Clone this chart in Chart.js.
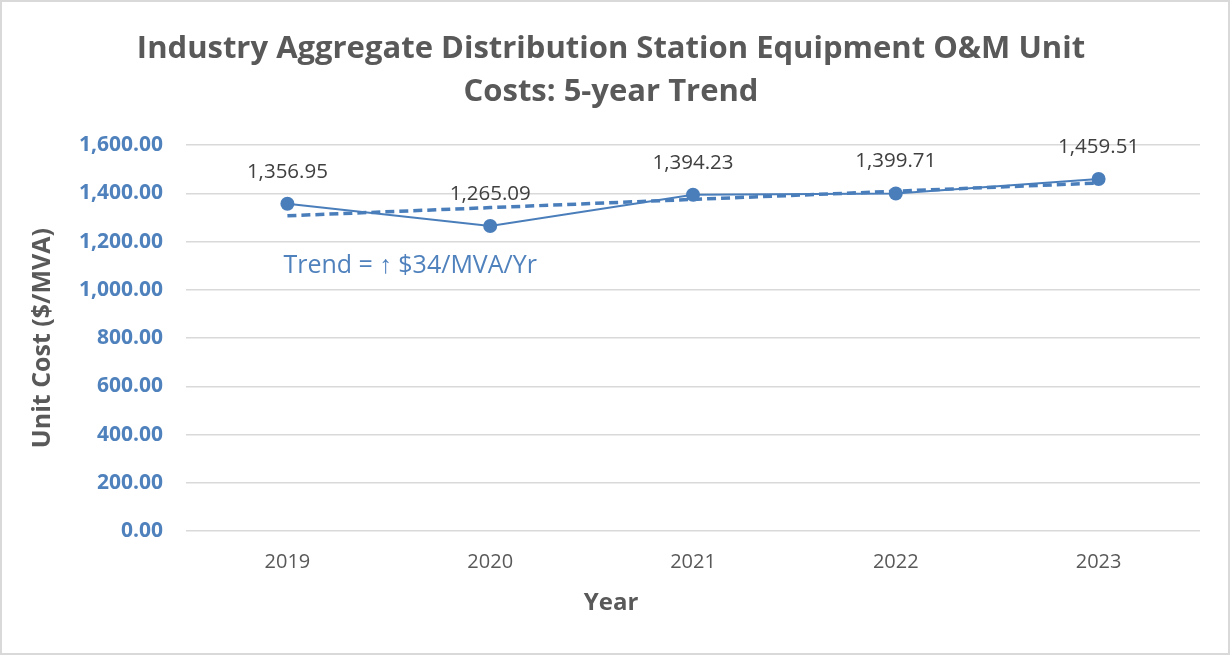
<!DOCTYPE html>
<html>
<head>
<meta charset="utf-8">
<script src="https://cdn.jsdelivr.net/npm/chart.js@4"></script>
<style>
  html, body { margin: 0; padding: 0; background: #fff; }
  canvas { display: block; }
</style>
</head>
<body>
<canvas id="js-chart" width="1230" height="655"></canvas>
<script>
var years = ["2019", "2020", "2021", "2022", "2023"],
    unitCosts = [1356.95, 1265.09, 1394.23, 1399.71, 1459.51],
    trendCosts = [1307.15, 1341.12, 1375.10, 1409.07, 1443.05],
    titleLines = ["Industry Aggregate Distribution Station Equipment O&M Unit", "Costs: 5-year Trend"],
    trendNote = "Trend = \u2191 $34/MVA/Yr";

var blue = "#4A7EBB",
    tickBlue = "#4F81BD",
    gray = "#595959",
    font = "'Open Sans', sans-serif";

Chart.defaults.font.family = font;

function fmt(v) {
    return v.toLocaleString("en-US", {minimumFractionDigits: 2, maximumFractionDigits: 2});
}

/* white page plus the thin frame round the whole chart */
var framePlugin = {
    id: "frame",
    beforeDraw: function(chart) {
        var ctx = chart.ctx;
        ctx.save();
        ctx.fillStyle = "#fff";
        ctx.fillRect(0, 0, chart.width, chart.height);
        ctx.strokeStyle = "#d9d9d9";
        ctx.lineWidth = 2;
        ctx.strokeRect(1, 1, chart.width - 2, chart.height - 2);
        ctx.restore();
    }
};

/* value labels above the points, the trend note and the x title */
var textPlugin = {
    id: "texts",
    afterDatasetsDraw: function(chart) {
        var ctx = chart.ctx,
            meta = chart.getDatasetMeta(0),
            x = chart.scales.x,
            y = chart.scales.y;
        ctx.save();
        ctx.textAlign = "center";
        ctx.textBaseline = "middle";
        ctx.fillStyle = "#404040";
        ctx.font = "20.5px " + font;
        meta.data.forEach(function(pt, i) {
            ctx.fillText(fmt(unitCosts[i]), pt.x, pt.y - 32);
        });

        ctx.textAlign = "left";
        ctx.fillStyle = tickBlue;
        ctx.font = "25px " + font;
        ctx.fillText(trendNote, x.getPixelForValue(0) - 4, y.getPixelForValue(1100));

        ctx.textAlign = "center";
        ctx.fillStyle = gray;
        ctx.font = "bold 24px " + font;
        ctx.fillText("Year", chart.width / 2 - 4, 603);
        ctx.restore();
    }
};

new Chart(document.getElementById("js-chart"), {
    type: "line",
    data: {
        labels: years,
        datasets: [{
            data: unitCosts,
            borderColor: blue,
            backgroundColor: blue,
            borderWidth: 2,
            pointRadius: 7,
            pointBackgroundColor: blue,
            pointBorderWidth: 0,
            tension: 0,
            order: 1
        }, {
            data: trendCosts,
            borderColor: blue,
            borderWidth: 3.5,
            borderDash: [9, 5],
            pointRadius: 0,
            tension: 0,
            order: 0
        }]
    },
    options: {
        responsive: false,
        animation: false,
        devicePixelRatio: 1,
        layout: {padding: {left: 22, right: 30, top: 0, bottom: 0}},
        plugins: {
            legend: {display: false},
            tooltip: {enabled: false},
            title: {
                display: true,
                text: titleLines,
                color: gray,
                font: {size: 31, weight: "bold", lineHeight: 1.39},
                padding: {top: 28, bottom: 31}
            }
        },
        scales: {
            x: {
                offset: true,
                grid: {display: false, drawTicks: false},
                border: {display: false},
                ticks: {color: gray, font: {size: 20}, padding: 19},
                afterFit: function(scale) { scale.height = 124; }
            },
            y: {
                min: 0,
                max: 1600,
                grid: {color: "#d9d9d9", lineWidth: 1.5, drawTicks: false},
                border: {display: false},
                ticks: {
                    stepSize: 200,
                    color: tickBlue,
                    font: {size: 21, weight: "bold"},
                    padding: 23,
                    callback: function(v) { return fmt(v); }
                },
                title: {
                    display: true,
                    text: "Unit Cost ($/MVA)",
                    color: gray,
                    font: {size: 25, weight: "bold"},
                    padding: {top: 6, bottom: 0}
                },
                afterFit: function(scale) { scale.width = 164; }
            }
        }
    },
    plugins: [framePlugin, textPlugin]
});
</script>
</body>
</html>
